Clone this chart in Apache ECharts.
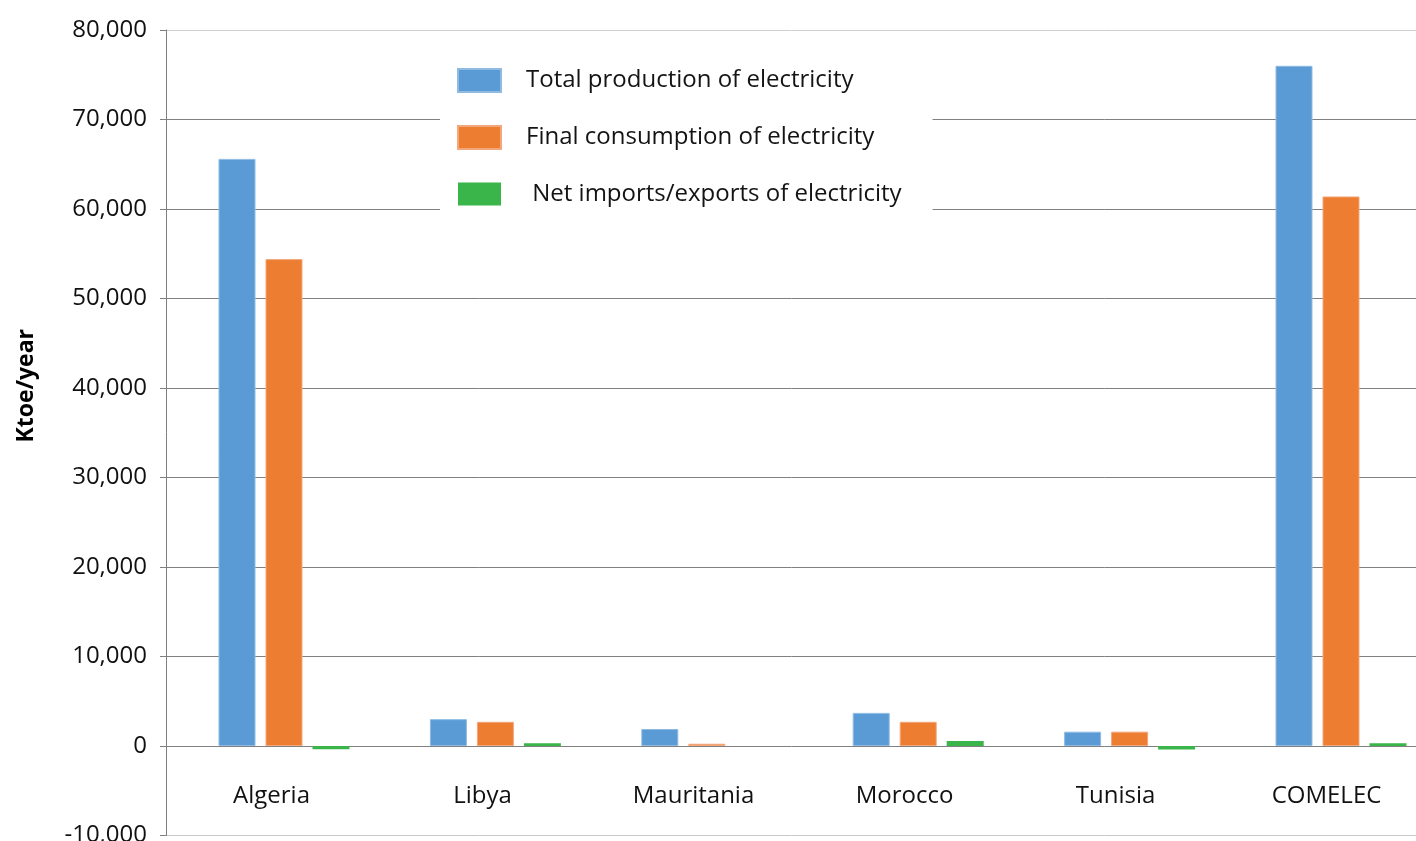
<!DOCTYPE html>
<html>
<head>
<meta charset="utf-8">
<script src="https://cdn.jsdelivr.net/npm/echarts@6/dist/echarts.min.js"></script>
<style>
html,body{margin:0;padding:0;background:#fff;}
#chart{width:1416px;height:841px;}
</style>
</head>
<body>
<div id="chart"></div>
<script>
var categories = ['Algeria', 'Libya', 'Mauritania', 'Morocco', 'Tunisia', 'COMELEC'];
var seriesNames = ['Total production of electricity', 'Final consumption of electricity', ' Net imports/exports of electricity'];
var production = [65600, 3000, 1900, 3700, 1600, 76000];
var consumption = [54400, 2700, 250, 2700, 1600, 61400];
var netImports = [-350, 300, 0, 550, -400, 300];
var yTicks = {min: -10000, max: 80000, interval: 10000};

var FONT = 'Open Sans';
var chart = echarts.init(document.getElementById('chart'));
var gridColors = ['#c8c8c8', '#808080', '#808080', '#808080', '#808080', '#808080', '#808080', '#808080', '#808080', '#d0d0d0'];
chart.setOption({
  animation: false,
  backgroundColor: '#ffffff',
  textStyle: {fontFamily: FONT},
  grid: [
    {left: 178.3, top: 30, bottom: 5.5, right: -30.7, containLabel: false, outerBoundsMode: 'none'},
    {left: 166, top: 30, bottom: 5.5, right: -16, containLabel: false, outerBoundsMode: 'none'}
  ],
  legend: {
    orient: 'vertical',
    left: 440,
    top: 50,
    padding: [18, 31, 8, 17],
    backgroundColor: '#ffffff',
    itemWidth: 43,
    itemHeight: 23,
    itemGap: 32,
    icon: 'rect',
    data: seriesNames,
    textStyle: {fontFamily: FONT, fontSize: 24, color: '#141414', padding: [0, 0, 0, 20]}
  },
  xAxis: [
    {
      gridIndex: 0,
      type: 'category',
      data: categories,
      show: false
    },
    {
      gridIndex: 1,
      type: 'category',
      data: categories,
      axisLine: {onZero: false, show: false},
      axisTick: {show: false},
      axisLabel: {fontFamily: FONT, fontSize: 24, lineHeight: 28, color: '#111', margin: -53},
      splitLine: {show: false}
    }
  ],
  yAxis: [
    {
      gridIndex: 0,
      type: 'value',
      min: yTicks.min,
      max: yTicks.max,
      interval: yTicks.interval,
      show: false,
      splitLine: {show: false}
    },
    {
      gridIndex: 1,
      type: 'value',
      min: yTicks.min,
      max: yTicks.max,
      interval: yTicks.interval,
      name: 'Ktoe/year',
      nameLocation: 'middle',
      nameGap: 128,
      nameTextStyle: {fontFamily: FONT, fontSize: 23, fontWeight: 'bold', color: '#000', padding: [0, 0, 0, 94]},
      axisLine: {show: true, lineStyle: {color: '#808080'}},
      axisTick: {show: true, inside: false, length: 6, lineStyle: {color: '#808080'}},
      axisLabel: {
        fontFamily: FONT, fontSize: 24, color: '#111', margin: 19,
        formatter: function (v) { return v.toLocaleString('en-US'); }
      },
      splitLine: {show: true, lineStyle: {color: gridColors, width: 1}}
    }
  ],
  series: [
    {name: seriesNames[0], type: 'bar', xAxisIndex: 0, yAxisIndex: 0, data: production, barWidth: 37, barGap: '27%', z: 3,
     itemStyle: {color: '#5B9BD5', borderColor: '#8fbbe3', borderWidth: 1}},
    {name: seriesNames[1], type: 'bar', xAxisIndex: 0, yAxisIndex: 0, data: consumption, barWidth: 37, barGap: '27%', z: 3,
     itemStyle: {color: '#ED7D31', borderColor: '#f3a77a', borderWidth: 1}},
    {name: seriesNames[2], type: 'bar', xAxisIndex: 0, yAxisIndex: 0, data: netImports, barWidth: 37, barGap: '27%', z: 3,
     itemStyle: {color: '#3AB54A', borderWidth: 0}}
  ]
});
</script>
</body>
</html>
